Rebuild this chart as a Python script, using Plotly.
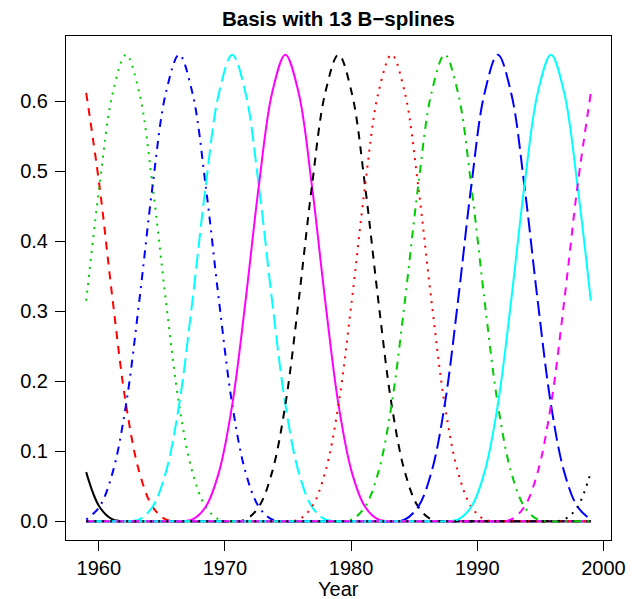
import plotly.graph_objects as go

# Evaluation grid (years): 39 points spanning 1959-1999
years = [1959.000, 1960.053, 1961.105, 1962.158, 1963.211, 1964.263, 1965.316,
         1966.368, 1967.421, 1968.474, 1969.526, 1970.579, 1971.632, 1972.684,
         1973.737, 1974.789, 1975.842, 1976.895, 1977.947, 1979.000, 1980.053,
         1981.105, 1982.158, 1983.211, 1984.263, 1985.316, 1986.368, 1987.421,
         1988.474, 1989.526, 1990.579, 1991.632, 1992.684, 1993.737, 1994.789,
         1995.842, 1996.895, 1997.947, 1999.000]

# Values of each basis function on the grid
b01 = [0.0703, 0.0208, 0.0026] + [0] * 36
b02 = [0.6120, 0.4792, 0.3151, 0.1667, 0.0703, 0.0208, 0.0026] + [0] * 32
b03 = [0.3151, 0.4792, 0.6120, 0.6667, 0.6120, 0.4792, 0.3151, 0.1667,
       0.0703, 0.0208, 0.0026] + [0] * 28
b04 = [0.0026, 0.0208, 0.0703, 0.1667, 0.3151, 0.4792, 0.6120, 0.6667,
       0.6120, 0.4792, 0.3151, 0.1667, 0.0703, 0.0208, 0.0026] + [0] * 24
b05 = [0] * 4 + [0.0026, 0.0208, 0.0703, 0.1667, 0.3151, 0.4792, 0.6120, 0.6667,
                 0.6120, 0.4792, 0.3151, 0.1667, 0.0703, 0.0208, 0.0026] + [0] * 20
b06 = [0] * 8 + [0.0026, 0.0208, 0.0703, 0.1667, 0.3151, 0.4792, 0.6120, 0.6667,
                 0.6120, 0.4792, 0.3151, 0.1667, 0.0703, 0.0208, 0.0026] + [0] * 16
b07 = [0] * 12 + [0.0026, 0.0208, 0.0703, 0.1667, 0.3151, 0.4792, 0.6120, 0.6667,
                  0.6120, 0.4792, 0.3151, 0.1667, 0.0703, 0.0208, 0.0026] + [0] * 12
b08 = [0] * 16 + [0.0026, 0.0208, 0.0703, 0.1667, 0.3151, 0.4792, 0.6120, 0.6667,
                  0.6120, 0.4792, 0.3151, 0.1667, 0.0703, 0.0208, 0.0026] + [0] * 8
b09 = [0] * 20 + [0.0026, 0.0208, 0.0703, 0.1667, 0.3151, 0.4792, 0.6120, 0.6667,
                  0.6120, 0.4792, 0.3151, 0.1667, 0.0703, 0.0208, 0.0026] + [0] * 4
b10 = [0] * 24 + [0.0026, 0.0208, 0.0703, 0.1667, 0.3151, 0.4792, 0.6120, 0.6667,
                  0.6120, 0.4792, 0.3151, 0.1667, 0.0703, 0.0208, 0.0026]
b11 = [0] * 28 + [0.0026, 0.0208, 0.0703, 0.1667, 0.3151, 0.4792, 0.6120, 0.6667,
                  0.6120, 0.4792, 0.3151]
b12 = [0] * 32 + [0.0026, 0.0208, 0.0703, 0.1667, 0.3151, 0.4792, 0.6120]
b13 = [0] * 36 + [0.0026, 0.0208, 0.0703]

basis = [b01, b02, b03, b04, b05, b06, b07, b08, b09, b10, b11, b12, b13]

x_ticks = [1960, 1970, 1980, 1990, 2000]
y_ticks = [0.0, 0.1, 0.2, 0.3, 0.4, 0.5, 0.6]
y_tick_labels = ["0.0", "0.1", "0.2", "0.3", "0.4", "0.5", "0.6"]

# R matplot style cycles
colors = ["#000000", "#FF0000", "#00CD00", "#0000FF", "#00FFFF", "#FF00FF"]
dashes = ["solid", "8px,7px", "2px,6px", "2px,6px,8px,6px", "15px,6px"]

fig = go.Figure()
for k, vals in enumerate(basis):
    fig.add_trace(go.Scatter(
        x=years, y=vals, mode="lines",
        line=dict(color=colors[k % 6], dash=dashes[k % 5], width=2,
                  shape="spline", smoothing=1.0),
        showlegend=False, hoverinfo="skip"))

font_family = "Liberation Sans, Arial, Helvetica, sans-serif"

# page body has an 8px margin, so the figure is 8px smaller than the window
fig.update_layout(
    width=629, height=591,
    margin=dict(l=50, r=16, t=28, b=59),
    paper_bgcolor="white", plot_bgcolor="white",
    font=dict(family=font_family, size=20, color="black"),
    showlegend=False,
)
fig.update_xaxes(
    range=[1957.4, 2000.6], tickmode="array", tickvals=x_ticks,
    ticks="outside", ticklen=10, tickwidth=1, tickcolor="black",
    showline=True, linecolor="black", linewidth=1, mirror=True,
    showgrid=False, zeroline=False, tickfont=dict(size=20),
)
fig.update_yaxes(
    range=[-0.02667, 0.69333], tickmode="array", tickvals=y_ticks,
    ticktext=y_tick_labels,
    ticks="outside", ticklen=10, tickwidth=1, tickcolor="black",
    showline=True, linecolor="black", linewidth=1, mirror=True,
    showgrid=False, zeroline=False, tickfont=dict(size=20),
    ticklabelstandoff=3,
)
fig.add_annotation(text="<b>Basis with 13 B\u2212splines</b>", xref="paper", yref="paper",
                   x=0.5, y=1, yanchor="bottom", yshift=4, showarrow=False,
                   font=dict(size=20.5, family=font_family))
fig.add_annotation(text="Year", xref="paper", yref="paper",
                   x=0.5, y=0, yanchor="top", yshift=-36, showarrow=False,
                   font=dict(size=20, family=font_family))

fig.write_html("out.html")
